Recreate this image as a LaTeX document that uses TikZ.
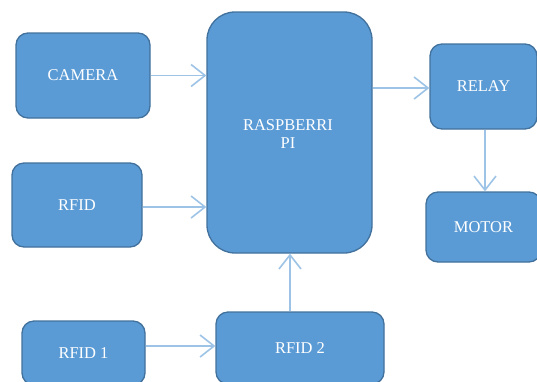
\documentclass[tikz,border=0pt]{standalone}
\usepackage{fontspec}
\setmainfont{Liberation Serif}
\usetikzlibrary{arrows.meta}
\definecolor{boxfill}{HTML}{5B9BD5}
\definecolor{boxline}{HTML}{41719C}
\definecolor{arrowcol}{HTML}{9DC3E6}
\begin{document}
\begin{tikzpicture}[x=1pt,y=-1pt,
  blk/.style={draw=boxline, line width=1.3pt, fill=boxfill, rounded corners=12pt,
    text=white, font=\fontsize{16.5}{19}\selectfont, align=center, inner sep=0pt},
  conn/.style={draw=arrowcol, line width=1.8pt, -{Straight Barb[length=14pt,width=22pt,line width=1.6pt]}}]
\useasboundingbox (0,0) rectangle (537,381);
\clip (0,0) rectangle (537,381);
\node[blk, minimum width=134pt, minimum height=85pt] (cam) at (83,75.5) {CAMERA};
\node[blk, minimum width=130pt, minimum height=84pt] (rfid) at (77,205) {RFID};
\node[blk, minimum width=123pt, minimum height=64pt] (rf1) at (83.5,353) {RFID 1};
\node[blk, minimum width=168pt, minimum height=72pt] (rf2) at (300,348) {RFID 2};
\node[blk, rounded corners=28pt, minimum width=165pt, minimum height=241pt] (pi) at (289.5,132.5) {};
\node[text=white, font=\fontsize{16.5}{18}\selectfont, align=center] (pitext) at (288,134) {RASPBERRI\\PI};
\node[blk, minimum width=107pt, minimum height=85pt] (relay) at (483.5,86.5) {RELAY};
\node[blk, minimum width=115pt, minimum height=70pt] (motor) at (483.5,227) {MOTOR};
\draw[conn] (cam.east) -- (cam.east -| pi.west);
\draw[conn] (rfid.east |- 0,207) -- (pi.west |- 0,207);
\draw[conn] (pi.east |- 0,88) -- (relay.west |- 0,88);
\draw[conn] (relay.south -| 485,0) -- (motor.north -| 485,0);
\draw[conn] (rf1.east |- 0,346) -- (rf2.west |- 0,346);
\draw[conn] (rf2.north -| 290,0) -- (pi.south -| 290,0);
\end{tikzpicture}
\end{document}
